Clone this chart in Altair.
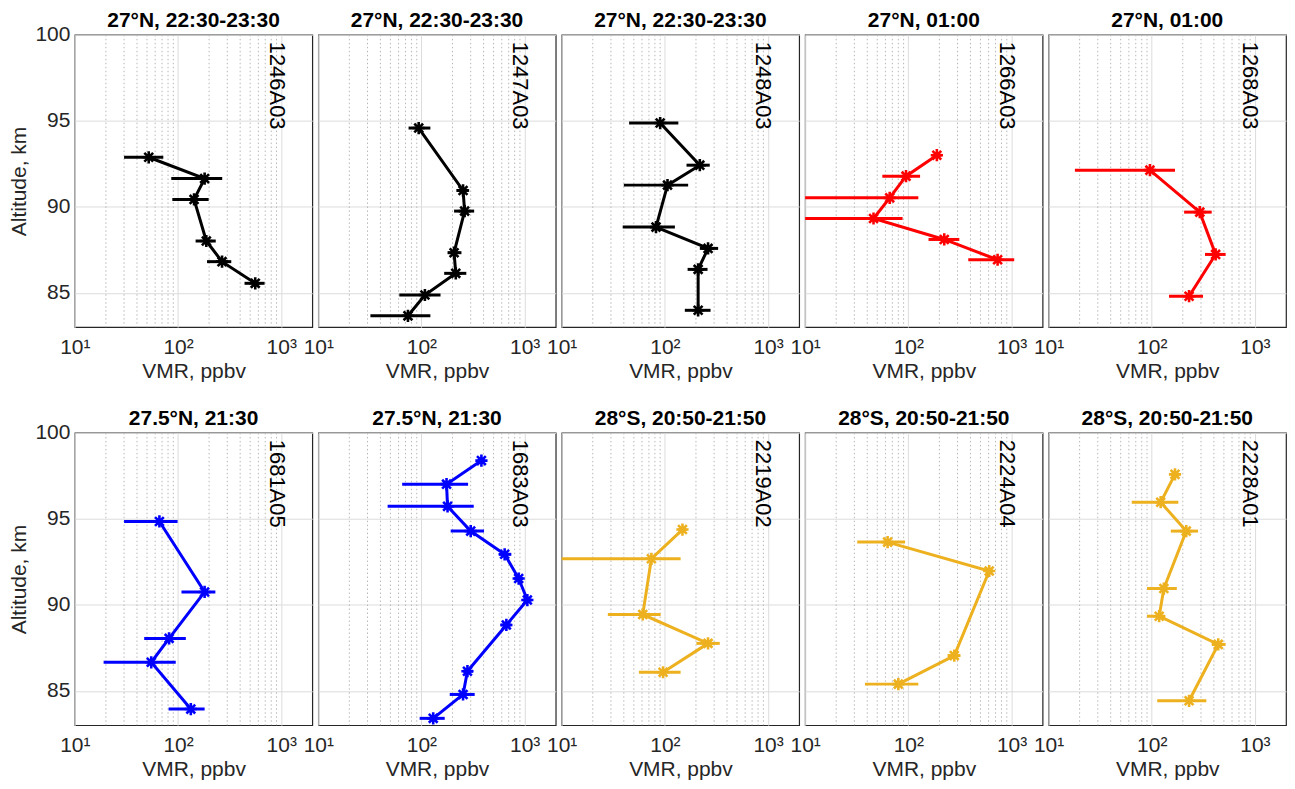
import altair as alt
import pandas as pd

FONT = "Liberation Sans"

ids = ["1246A03", "1247A03", "1248A03", "1266A03", "1268A03",
       "1681A05", "1683A03", "2219A02", "2224A04", "2228A01"]
titles = ["27°N, 22:30-23:30", "27°N, 22:30-23:30", "27°N, 22:30-23:30",
          "27°N, 01:00", "27°N, 01:00",
          "27.5°N, 21:30", "27.5°N, 21:30",
          "28°S, 20:50-21:50", "28°S, 20:50-21:50", "28°S, 20:50-21:50"]
colors = ["#000000", "#000000", "#000000", "#FF0000", "#FF0000",
          "#0000FF", "#0000FF", "#EDB120", "#EDB120", "#EDB120"]

alt_1246 = [92.88, 91.64, 90.43, 88.01, 86.81, 85.55]
vmr_1246 = [52, 181, 143, 188, 267, 560]
lo_1246 = [30, 86, 88, 148, 191, 441]
hi_1246 = [72, 268, 198, 232, 328, 690]

alt_1247 = [94.58, 90.95, 89.75, 87.33, 86.13, 84.87, 83.66]
vmr_1247 = [94, 253, 262, 207, 215, 108, 74]
lo_1247 = [75, 218, 207, 179, 166, 61, 32]
hi_1247 = [122, 287, 324, 244, 272, 153, 122]

alt_1248 = [94.87, 92.42, 91.26, 88.82, 87.58, 86.36, 83.98]
vmr_1248 = [90, 218, 106, 82, 262, 210, 210]
lo_1248 = [45, 162, 40, 39, 218, 166, 156]
hi_1248 = [135, 272, 168, 125, 328, 259, 277]

alt_1266 = [93.0, 91.78, 90.52, 89.32, 88.10, 86.92]
vmr_1266 = [189, 95, 66, 46, 223, 733]
lo_1266 = [172, 56, 8, 8, 157, 381]
hi_1266 = [210, 130, 125, 88, 312, 1062]

alt_1268 = [92.13, 89.69, 87.23, 84.80]
vmr_1268 = [96, 292, 416, 230]
lo_1268 = [18, 206, 328, 147]
hi_1268 = [168, 381, 520, 314]

alt_1681 = [94.85, 90.75, 88.05, 86.66, 83.94]
vmr_1681 = [66, 181, 82, 55, 133]
lo_1681 = [30, 108, 47, 19, 81]
hi_1681 = [99, 230, 119, 95, 181]

alt_1683 = [98.39, 97.02, 95.73, 94.29, 92.94, 91.53, 90.28, 88.83, 86.14, 84.79, 83.40]
vmr_1683 = [381, 175, 179, 300, 640, 875, 1062, 665, 279, 253, 130]
lo_1683 = [350, 65, 47, 192, 565, 789, 960, 586, 253, 188, 96]
hi_1683 = [410, 283, 321, 404, 743, 964, 1170, 743, 316, 328, 168]

alt_2219 = [94.38, 92.68, 89.44, 87.76, 86.08]
vmr_2219 = [148, 74, 61, 262, 96]
lo_2219 = [135, 8, 28, 202, 56]
hi_2219 = [162, 142, 91, 340, 142]

alt_2224 = [93.65, 91.97, 87.05, 85.39]
vmr_2224 = [63, 608, 279, 80]
lo_2224 = [32, 560, 240, 38]
hi_2224 = [93, 660, 318, 125]

alt_2228 = [97.59, 95.97, 94.29, 90.95, 89.34, 87.70, 84.42]
vmr_2228 = [168, 122, 216, 131, 118, 441, 230]
lo_2228 = [153, 64, 153, 90, 90, 381, 113]
hi_2228 = [185, 181, 281, 175, 135, 520, 338]

series = [
    (alt_1246, vmr_1246, lo_1246, hi_1246),
    (alt_1247, vmr_1247, lo_1247, hi_1247),
    (alt_1248, vmr_1248, lo_1248, hi_1248),
    (alt_1266, vmr_1266, lo_1266, hi_1266),
    (alt_1268, vmr_1268, lo_1268, hi_1268),
    (alt_1681, vmr_1681, lo_1681, hi_1681),
    (alt_1683, vmr_1683, lo_1683, hi_1683),
    (alt_2219, vmr_2219, lo_2219, hi_2219),
    (alt_2224, vmr_2224, lo_2224, hi_2224),
    (alt_2228, vmr_2228, lo_2228, hi_2228),
]

x_ticks = [10, 100, 1000]
x_minor = [20, 30, 40, 50, 60, 70, 80, 90, 200, 300, 400, 500, 600, 700, 800, 900]
y_ticks = [85, 90, 95, 100]

ASTERISK = "M-1,0L1,0M0,-1L0,1M-0.72,-0.72L0.72,0.72M-0.72,0.72L0.72,-0.72"


def panel(i):
    a, v, lo, hi = series[i]
    df = pd.DataFrame({"alt": a, "vmr": v, "lo": lo, "hi": hi, "k": list(range(len(a)))})
    color = colors[i]
    first = (i % 5 == 0)
    xs = alt.Scale(type="log", domain=[10, 2000], clamp=True, nice=False)
    ys = alt.Scale(domain=[83, 100], nice=False, zero=False)
    xaxis = alt.Axis(values=x_ticks,
                     labelExpr="datum.value == 10 ? '10\u00b9' : datum.value == 100 ? '10\u00b2' : '10\u00b3'",
                     title="VMR, ppbv", grid=True, labelPadding=9,
                     titleY=33, titleBaseline="top",
                     labelFlush=False, labelOverlap=False)
    if first:
        yaxis = alt.Axis(values=y_ticks, title="Altitude, km", grid=True, labelPadding=5,
                         titlePadding=5, labelFlush=False)
    else:
        yaxis = alt.Axis(values=y_ticks, title=None, labels=True, labelColor="transparent",
                         labelOpacity=0, grid=True, labelFlush=False, labelPadding=5)

    minor = alt.Chart(pd.DataFrame({"v": x_minor})).mark_rule(
        color="#b8b8b8", strokeDash=[1.5, 2.5], strokeWidth=1
    ).encode(x=alt.X("v:Q", scale=xs, axis=xaxis))

    err = alt.Chart(df).mark_rule(color=color, strokeWidth=3).encode(
        x=alt.X("lo:Q", scale=xs, axis=xaxis),
        x2="hi:Q",
        y=alt.Y("alt:Q", scale=ys, axis=yaxis),
    )
    line = alt.Chart(df).mark_line(color=color, strokeWidth=3).encode(
        x=alt.X("vmr:Q", scale=xs, axis=xaxis),
        y=alt.Y("alt:Q", scale=ys, axis=yaxis),
        order="k:Q",
    )
    pts = alt.Chart(df).mark_point(shape=ASTERISK, size=150, filled=False, color=color,
                                   strokeWidth=2.6, opacity=1).encode(
        x=alt.X("vmr:Q", scale=xs, axis=xaxis),
        y=alt.Y("alt:Q", scale=ys, axis=yaxis),
    )
    lab = alt.Chart(pd.DataFrame({"x": [900], "y": [99.6], "t": [ids[i]]})).mark_text(
        angle=90, align="left", baseline="middle", fontSize=22, font=FONT, color="#000000"
    ).encode(
        x=alt.X("x:Q", scale=xs, axis=xaxis),
        y=alt.Y("y:Q", scale=ys, axis=yaxis),
        text="t:N",
    )
    return alt.layer(minor, err, line, pts, lab).properties(
        width=238, height=293,
        title=alt.TitleParams(titles[i], fontSize=21, fontWeight="bold", font=FONT,
                              color="#000000", offset=-7, frame="group"),
    )


chart = alt.ConcatChart(
    concat=[panel(i) for i in range(10)],
    columns=5,
    spacing=alt.RowColnumber(row=106, column=6),
    bounds="flush",
).properties(padding=0).configure(font=FONT).configure_view(
    stroke="#262626", strokeWidth=1.2
).configure_axis(
    labelFont=FONT, titleFont=FONT, labelFontSize=21, titleFontSize=21,
    titleFontWeight="normal", labelColor="#262626", titleColor="#262626",
    gridColor="#dcdcdc", gridWidth=1, domain=False, ticks=False,
)

chart.save("out.html", embed_options={"renderer": "svg", "actions": False})
